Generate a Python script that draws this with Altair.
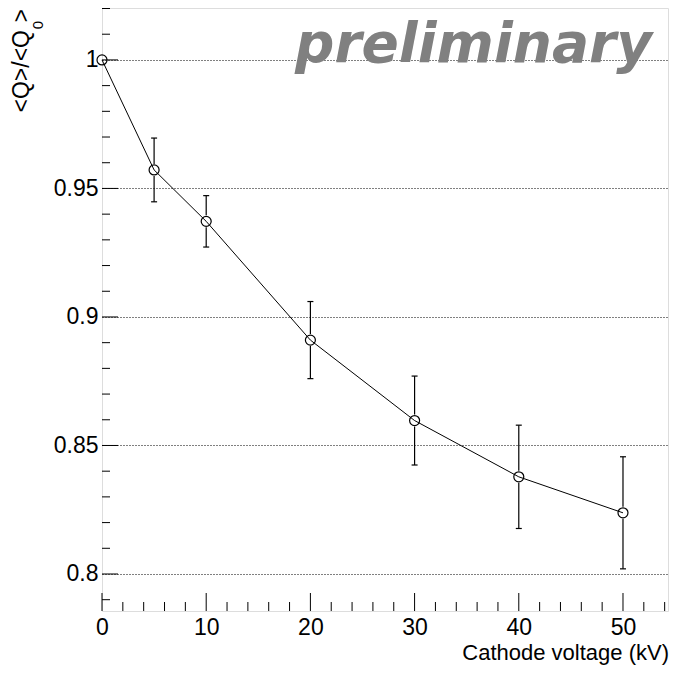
import altair as alt
import pandas as pd

# data
voltage = [0, 5, 10, 20, 30, 40, 50]
ratio = [1.0, 0.9572, 0.9372, 0.8910, 0.8597, 0.8378, 0.8238]
err = [0.0, 0.0124, 0.0100, 0.0150, 0.0173, 0.0201, 0.0218]

x_major = [0, 10, 20, 30, 40, 50]
x_minor = [2, 4, 6, 8, 12, 14, 16, 18, 22, 24, 26, 28, 32, 34, 36, 38,
           42, 44, 46, 48, 52, 54]
y_major = [0.8, 0.85, 0.9, 0.95, 1.0]
y_minor = [0.79, 0.81, 0.82, 0.83, 0.84, 0.86, 0.87, 0.88, 0.89, 0.91,
           0.92, 0.93, 0.94, 0.96, 0.97, 0.98, 0.99, 1.01, 1.02]

W, H = 566, 603
FONT = "Liberation Sans"

df = pd.DataFrame({"voltage": voltage, "ratio": ratio, "err": err})
df["lo"] = df["ratio"] - df["err"]
df["hi"] = df["ratio"] + df["err"]
dfe = df[df["err"] > 0]

xs = alt.Scale(domain=[0, 54.32], nice=False, zero=False)
ys = alt.Scale(domain=[0.7856, 1.0202], nice=False, zero=False)

xaxis = alt.Axis(values=x_major, ticks=False, tickSize=0, domain=False, grid=False,
                 labelFont=FONT, labelFontSize=23, labelColor="black",
                 labelPadding=5, labelFlush=False, title=None)
yaxis = alt.Axis(values=y_major, ticks=False, tickSize=0, domain=False, grid=True,
                 gridDash=[1, 2], gridColor="black", gridOpacity=1, gridWidth=1,
                 labelFont=FONT, labelFontSize=23, labelColor="black",
                 labelPadding=4, labelFlush=False, format="~g", title=None)


def X(field):
    return alt.X(field, scale=xs, axis=xaxis)


def Y(field):
    return alt.Y(field, scale=ys, axis=yaxis)


line = alt.Chart(df).mark_line(color="black", strokeWidth=1).encode(
    x=X("voltage:Q"), y=Y("ratio:Q"))
pts = alt.Chart(df).mark_point(shape="circle", size=100, filled=False,
                               color="black", strokeWidth=1.2, opacity=1).encode(
    x=X("voltage:Q"), y=Y("ratio:Q"))
err_up = alt.Chart(dfe).mark_rule(color="black", strokeWidth=1.2, y2Offset=-6).encode(
    x=X("voltage:Q"), y=Y("hi:Q"), y2="ratio:Q")
err_dn = alt.Chart(dfe).mark_rule(color="black", strokeWidth=1.2, yOffset=6).encode(
    x=X("voltage:Q"), y=Y("ratio:Q"), y2="lo:Q")
cap_hi = alt.Chart(dfe).mark_rule(color="black", strokeWidth=1.2,
                                  xOffset=-3, x2Offset=3).encode(
    x=X("voltage:Q"), x2="voltage:Q", y=Y("hi:Q"))
cap_lo = alt.Chart(dfe).mark_rule(color="black", strokeWidth=1.2,
                                  xOffset=-3, x2Offset=3).encode(
    x=X("voltage:Q"), x2="voltage:Q", y=Y("lo:Q"))


def xticks(vals, length):
    return alt.Chart(pd.DataFrame({"t": vals})).mark_rule(color="black", strokeWidth=1).encode(
        x=X("t:Q"), y=alt.value(H), y2=alt.value(H - length))


def yticks(vals, length):
    return alt.Chart(pd.DataFrame({"t": vals})).mark_rule(color="black", strokeWidth=1).encode(
        y=Y("t:Q"), x=alt.value(0), x2=alt.value(length))


def label(text, x, y, **kw):
    return alt.Chart(pd.DataFrame({"t": [text]})).mark_text(**kw).encode(
        x=alt.value(x), y=alt.value(y), text="t:N")


xtitle = label("Cathode voltage (kV)", W + 1, H + 49, align="right", baseline="alphabetic",
               font=FONT, fontSize=22, color="black")
yt1 = label("<Q>/<Q", -73, 22, angle=270, align="right", baseline="alphabetic",
            font=FONT, fontSize=23, color="black")
yt2 = label("0", -59, 17, angle=270, align="center", baseline="alphabetic",
            font=FONT, fontSize=15, color="black")
yt3 = label(">", -73, 1, angle=270, align="right", baseline="alphabetic",
            font=FONT, fontSize=23, color="black")
prelim = label("preliminary", 550, 54, align="right", baseline="alphabetic",
               font="DejaVu Sans", fontSize=55, fontWeight="bold", fontStyle="italic",
               color="#808080")

chart = alt.layer(
    line, err_up, err_dn, cap_hi, cap_lo, pts,
    xticks(x_major, 18), xticks(x_minor, 9),
    yticks(y_major, 16), yticks(y_minor, 8),
    prelim, xtitle, yt1, yt2, yt3,
).properties(
    width=W, height=H,
    autosize=alt.AutoSizeParams(type="none"),
    padding={"left": 94, "top": 0, "right": 1, "bottom": 54},
).configure_view(
    stroke="black", strokeWidth=1
).configure(background="white")

chart.save("out.html", embed_options={"renderer": "svg", "actions": False})
